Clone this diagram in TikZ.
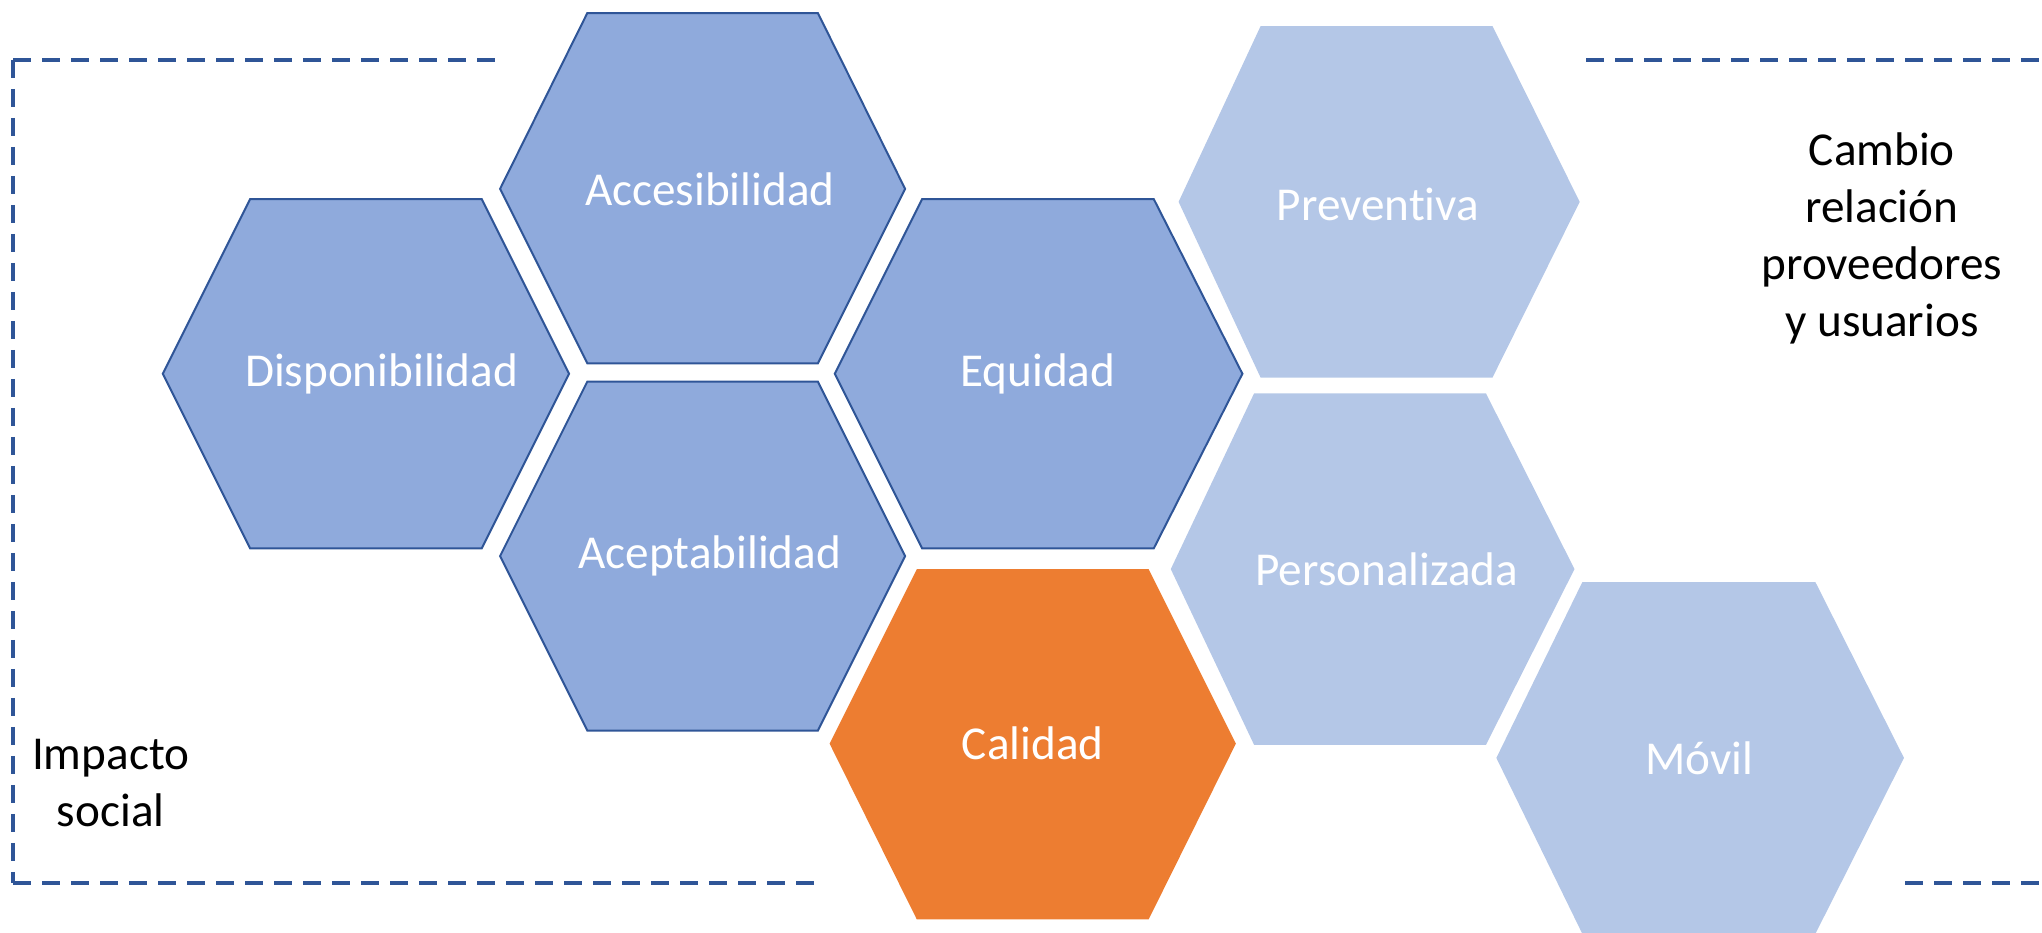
\documentclass[tikz,border=0pt]{standalone}
\usepackage{fontspec}
\setmainfont{Carlito}[Ligatures=NoCommon]
\definecolor{hexdark}{HTML}{8FAADC}
\definecolor{hexlight}{HTML}{B4C7E7}
\definecolor{hexorange}{HTML}{ED7D31}
\definecolor{edgeblue}{HTML}{2F5597}
\newcommand{\myhex}[8]{\path[#1] (#2,#7) -- (#3,#6) -- (#4,#6) -- (#5,#7) -- (#4,#8) -- (#3,#8) -- cycle;}
\begin{document}
\begin{tikzpicture}[x=0.65115pt,y=-0.65115pt,
 hexd/.style={fill=hexdark,draw=edgeblue,line width=1pt},
 hexl/.style={fill=hexlight},
 hexo/.style={fill=hexorange},
 lbl/.style={text=white,inner sep=0pt,font=\fontsize{23.6}{28.5}\selectfont},
 side/.style={text=black,inner sep=0pt,align=center,font=\fontsize{23.6}{28.5}\selectfont},
 frame/.style={draw=edgeblue,line width=1.75pt,dash pattern=on 9pt off 5.5pt}]
\useasboundingbox (0,0) rectangle (1568,716);
\clip (0,0) rectangle (1568,716);
% dashed frames
\coordinate (lt1) at (10,46);
\coordinate (lt2) at (381,46);
\coordinate (lb1) at (10,678);
\coordinate (lb2) at (627,678);
\coordinate (rt1) at (1218,46);
\coordinate (rt2) at (1568,46);
\coordinate (rb1) at (1463,678);
\coordinate (rb2) at (1568,678);
\draw[frame] (lt1) -- (lt2);
\draw[frame] (lt1) -- (lb1);
\draw[frame] (lb1) -- (lb2);
\draw[frame] (rt1) -- (rt2);
\draw[frame] (rb1) -- (rb2);
% hexagons
\myhex{hexd}{384}{451}{628}{695}{10}{145}{279}
\myhex{hexd}{125}{192}{370}{437}{153}{287}{421}
\myhex{hexd}{384}{451}{628}{695}{293}{427}{561}
\myhex{hexd}{641}{708}{886}{954}{153}{287}{421}
\myhex{hexo}{637}{704}{882}{949}{437}{571}{706}
\myhex{hexl}{905}{968}{1146}{1213}{20}{155}{290}
\myhex{hexl}{899}{963}{1141}{1209}{302}{437}{572}
\myhex{hexl}{1149}{1215}{1394}{1462}{447}{582}{717}
% labels
\node[lbl] (acc) at (545,145) {Accesibilidad};
\node[lbl] (disp) at (293,287) {Disponibilidad};
\node[lbl] (acep) at (545,427) {Aceptabilidad};
\node[lbl] (equi) at (797,287) {Equidad};
\node[lbl] (cal) at (793,571) {Calidad};
\node[lbl] (prev) at (1058,157) {Preventiva};
\node[lbl] (pers) at (1065,437) {Personalizada};
\node[lbl] (mov) at (1305,582) {Móvil};
\node[side] (imp) at (85,601) {Impacto\\social};
\node[side] (camb) at (1445,183) {Cambio\\relación\\proveedores\\y usuarios};
\end{tikzpicture}
\end{document}
